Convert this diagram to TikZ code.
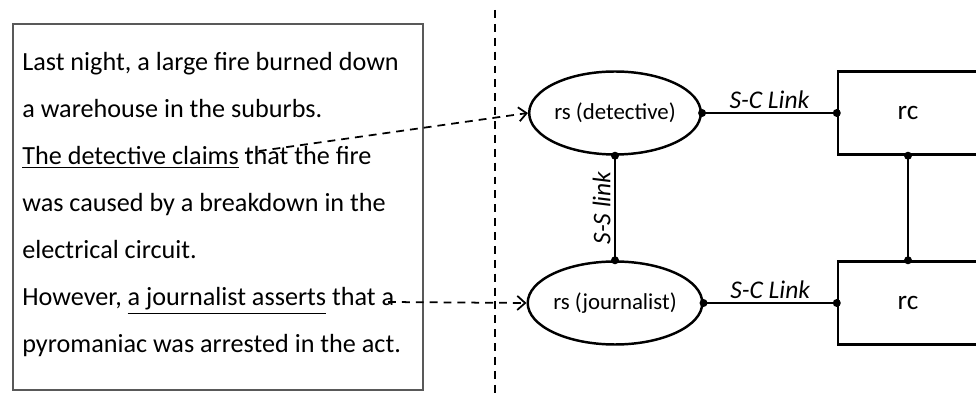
\documentclass[tikz,border=0pt]{standalone}
\usepackage{fontspec}
\setmainfont{Carlito}
\usetikzlibrary{shapes.geometric}
\usetikzlibrary{arrows.meta}

\begin{document}
\begin{tikzpicture}[x=0.02cm, y=-0.02cm]
  \tikzset{speaker/.style = {shape=ellipse,draw,line width=1.4pt,minimum width=3.12cm,minimum height=1.66cm,inner sep=0pt,font=\fontsize{13}{15}\selectfont}}
  \tikzset{context/.style = {shape=rectangle,draw,line width=1.4pt,minimum width=2.8cm,minimum height=1.66cm,font=\fontsize{15.5}{17}\selectfont}}
  \tikzset{line/.style = {anchor=base west,inner sep=0pt,font=\fontsize{14.9}{17}\selectfont}}
  \tikzset{link/.style = {line width=1pt}}
  \tikzset{linklabel/.style = {font=\fontsize{14.5}{16}\selectfont\itshape,inner sep=2pt}}
  \tikzset{quote/.style = {-{Straight Barb[length=4.5pt,width=8pt]},line width=1pt,dash pattern=on 4.5pt off 3.4pt}}

  \useasboundingbox (0,0) rectangle (976,394);

  % the story
  \node[draw=black!65, line width=0.9pt, minimum width=8.2cm, minimum height=7.32cm,
        anchor=north west] (story) at (12,23) {};
  \node[line] (l1) at (22,71)  {Last night, a large fire burned down};
  \node[line] (l2) at (22,118) {a warehouse in the suburbs.};
  \node[line] (l3) at (22,165) {\underline{The detective claims} that the fire};
  \node[line] (l4) at (22,212) {was caused by a breakdown in the};
  \node[line] (l5) at (22,259) {electrical circuit.};
  \node[line] (l6) at (22,306) {However, \underline{a journalist asserts} that a};
  \node[line] (l7) at (22,353) {pyromaniac was arrested in the act.};

  \draw[line width=1pt, dash pattern=on 4.5pt off 3.4pt] (495,10) -- (495,394);

  % sources and their contexts
  \node[speaker] (det)  at (615,113) {rs (detective)};
  \node[speaker] (jour) at (615,303) {rs (journalist)};
  \node[context] (rc1) at (908,113) {rc};
  \node[context] (rc2) at (908,303) {rc};

  \coordinate (claim)  at (245,153);
  \coordinate (assert) at (388,302);
  \draw[quote] (claim) to (det.west);
  \draw[quote] (assert) to (jour.west);

  \draw[link] (det.east) -- node[above, linklabel] {S-C Link} (rc1.west);
  \draw[link] (jour.east) -- node[above, linklabel] {S-C Link} (rc2.west);
  \draw[link] (jour.north) -- node[above, sloped, linklabel] {S-S link} (det.south);
  \draw[link] (rc1.south) -- (rc2.north);

  \foreach \p in {det.east, det.south, jour.north, jour.east, rc1.west, rc1.south, rc2.west, rc2.north}
    \fill (\p) circle (0.08cm);
\end{tikzpicture}
\end{document}
